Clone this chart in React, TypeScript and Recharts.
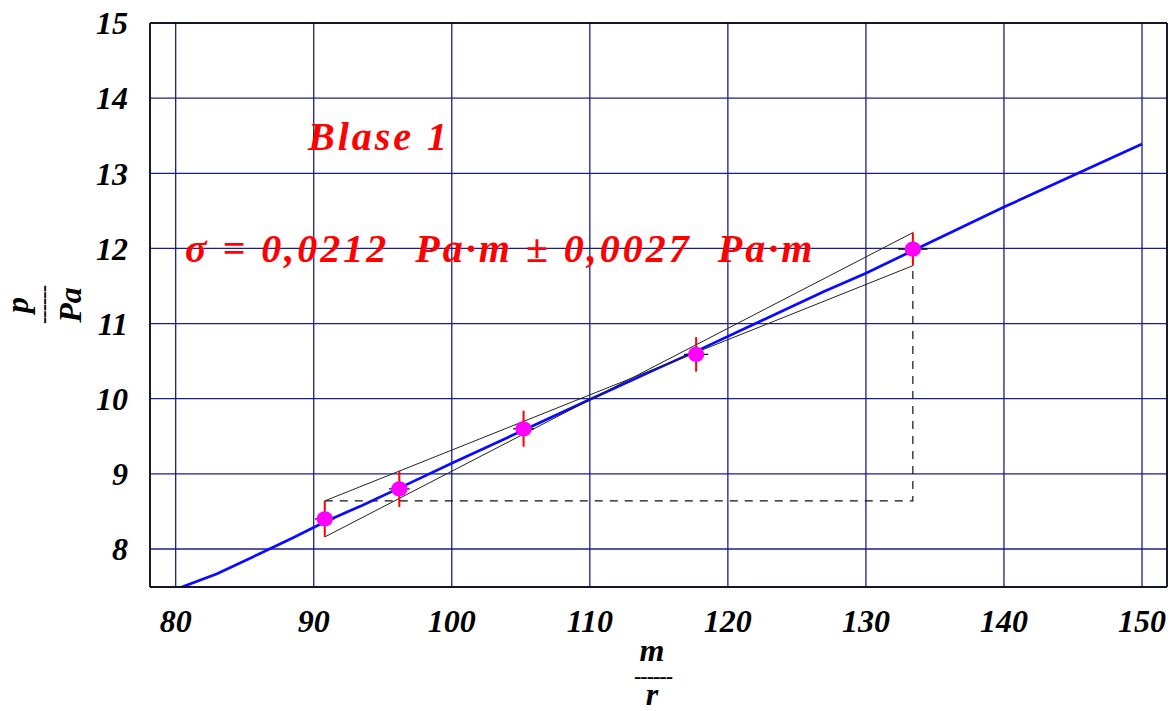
import { ComposedChart, XAxis, YAxis, CartesianGrid, Line, Scatter, ErrorBar } from 'recharts';

// axis ticks
const X_MAJOR = [80, 90, 100, 110, 120, 130, 140, 150];
const X_MINOR = [
    80, 82, 84, 86, 88, 90, 92, 94, 96, 98, 100, 102, 104, 106, 108, 110, 112, 114,
    116, 118, 120, 122, 124, 126, 128, 130, 132, 134, 136, 138, 140, 142, 144, 146, 148, 150,
];
const Y_MAJOR = [8, 9, 10, 11, 12, 13, 14, 15];
const Y_MINOR = [
    7.6, 7.8, 8, 8.2, 8.4, 8.6, 8.8, 9, 9.2, 9.4, 9.6, 9.8, 10, 10.2, 10.4, 10.6, 10.8, 11, 11.2,
    11.4, 11.6, 11.8, 12, 12.2, 12.4, 12.6, 12.8, 13, 13.2, 13.4, 13.6, 13.8, 14, 14.2, 14.4, 14.6,
    14.8, 15,
];
const X_DOMAIN = [78.14, 151.81];
const Y_DOMAIN = [7.494, 15];

// measured points (m/r, p/Pa) with errors
const MEAS_X = [90.8, 96.2, 105.2, 117.7, 133.4];
const MEAS_P = [8.4, 8.8, 9.6, 10.59, 11.99];
const MEAS_EX = [0.7, 0.75, 0.75, 0.87, 1.06];
const MEAS_EY = [0.24, 0.24, 0.24, 0.23, 0.22];

// fitted line
const FIT_X = [80.4, 83, 86, 88.5, 90.9, 93.5, 96.3, 100, 105.3, 110, 115, 117.8, 122, 127, 130, 133.5, 140, 145, 150];
const FIT_P = [7.49, 7.67, 7.93, 8.15, 8.37, 8.58, 8.82, 9.14, 9.59, 9.99, 10.41, 10.64, 11.0, 11.43, 11.67, 11.98, 12.55, 12.97, 13.39];

const W = 1173;
const H = 711;
const FONT = '"Liberation Serif", "Times New Roman", serif';
const RED = '#ff0000';

const measured = MEAS_X.map((x, i) => ({ x, p: MEAS_P[i], ex: MEAS_EX[i], ey: MEAS_EY[i] }));
const fit = FIT_X.map((x, i) => ({ x, p: FIT_P[i] }));

const first = measured[0];
const last = measured[measured.length - 1];
// extreme slopes through the ends of the outer error bars
const steep = [
    { x: first.x, p: first.p - first.ey },
    { x: last.x, p: last.p + last.ey },
];
const flat = [
    { x: first.x, p: first.p + first.ey },
    { x: last.x, p: last.p - last.ey },
];
const slopeTriangle = [
    { x: first.x, p: first.p + first.ey },
    { x: last.x, p: first.p + first.ey },
    { x: last.x, p: last.p + last.ey },
];

const tickStyle = {
    fontFamily: FONT,
    fontSize: 32,
    fontWeight: 700,
    fontStyle: 'italic',
    fill: '#000',
};

const frame = { stroke: '#000', strokeWidth: 1.5 };

const Dot = (props: any) => (
    <ellipse cx={props.cx} cy={props.cy} rx={8.2} ry={7.6} fill="#ff00ff" />
);
const Nothing = () => <g />;

export default function App() {
    return (
        <div style={{ position: 'absolute', left: 0, top: 0, width: W, height: H, background: '#fff' }}>
            <ComposedChart width={W} height={H} margin={{ top: 23, right: 6, bottom: 0, left: 0 }}>
                <CartesianGrid xAxisId="x" yAxisId="y" stroke="#1c1c90" strokeWidth={1.3} />
                <XAxis
                    xAxisId="x"
                    dataKey="x"
                    type="number"
                    domain={X_DOMAIN}
                    allowDataOverflow
                    ticks={X_MAJOR}
                    interval={0}
                    height={124}
                    tickLine={false}
                    tickSize={6}
                    tickMargin={16}
                    axisLine={frame}
                    tick={tickStyle}
                />
                <XAxis
                    xAxisId="xb"
                    type="number"
                    orientation="bottom"
                    mirror
                    domain={X_DOMAIN}
                    allowDataOverflow
                    ticks={X_MINOR}
                    interval={0}
                    tick={false}
                    tickSize={5}
                    tickLine={{ stroke: '#000' }}
                    axisLine={false}
                />
                <XAxis
                    xAxisId="xt"
                    type="number"
                    orientation="top"
                    mirror
                    domain={X_DOMAIN}
                    allowDataOverflow
                    ticks={X_MINOR}
                    interval={0}
                    tick={false}
                    tickSize={5}
                    tickLine={{ stroke: '#000' }}
                    axisLine={frame}
                />
                <YAxis
                    yAxisId="y"
                    type="number"
                    domain={Y_DOMAIN}
                    allowDataOverflow
                    ticks={Y_MAJOR}
                    interval={0}
                    width={150}
                    tickLine={false}
                    tickSize={6}
                    tickMargin={16}
                    axisLine={frame}
                    tick={tickStyle}
                />
                <YAxis
                    yAxisId="yl"
                    type="number"
                    orientation="left"
                    mirror
                    domain={Y_DOMAIN}
                    allowDataOverflow
                    ticks={Y_MINOR}
                    interval={0}
                    tick={false}
                    tickSize={5}
                    tickLine={{ stroke: '#000' }}
                    axisLine={false}
                />
                <YAxis
                    yAxisId="yr"
                    type="number"
                    orientation="right"
                    mirror
                    domain={Y_DOMAIN}
                    allowDataOverflow
                    ticks={Y_MINOR}
                    interval={0}
                    tick={false}
                    tickSize={5}
                    tickLine={{ stroke: '#000' }}
                    axisLine={frame}
                />

                <Line
                    xAxisId="x"
                    yAxisId="y"
                    data={slopeTriangle}
                    dataKey="p"
                    stroke="#111"
                    strokeWidth={1.2}
                    strokeDasharray="8 7"
                    dot={false}
                    activeDot={false}
                    isAnimationActive={false}
                />
                <Line
                    xAxisId="x"
                    yAxisId="y"
                    data={fit}
                    dataKey="p"
                    stroke="#0a0aff"
                    strokeWidth={2.7}
                    dot={false}
                    activeDot={false}
                    isAnimationActive={false}
                />
                <Line
                    xAxisId="x"
                    yAxisId="y"
                    data={steep}
                    dataKey="p"
                    stroke="#222"
                    strokeWidth={1}
                    dot={false}
                    activeDot={false}
                    isAnimationActive={false}
                />
                <Line
                    xAxisId="x"
                    yAxisId="y"
                    data={flat}
                    dataKey="p"
                    stroke="#222"
                    strokeWidth={1}
                    dot={false}
                    activeDot={false}
                    isAnimationActive={false}
                />
                <Scatter
                    xAxisId="x"
                    yAxisId="y"
                    data={measured}
                    dataKey="p"
                    shape={Dot}
                    isAnimationActive={false}
                >
                    <ErrorBar dataKey="ex" direction="x" width={0} stroke="#000" strokeWidth={1.2} />
                </Scatter>
                <Scatter
                    xAxisId="x"
                    yAxisId="y"
                    data={measured}
                    dataKey="p"
                    shape={Nothing}
                    isAnimationActive={false}
                >
                    <ErrorBar dataKey="ey" direction="y" width={0} stroke={RED} strokeWidth={2} />
                </Scatter>
            </ComposedChart>

            <svg
                width={W}
                height={H}
                style={{ position: 'absolute', left: 0, top: 0, pointerEvents: 'none' }}
                fontFamily={FONT}
                fontWeight={700}
                fontStyle="italic"
            >
                <text x={308} y={150} fill={RED} fontSize={40} letterSpacing={3}>
                    Blase 1
                </text>
                <text x={185} y={262} fill={RED} fontSize={40} letterSpacing={3} style={{ whiteSpace: 'pre' }}>
                    {'σ = 0,0212  Pa·m ± 0,0027  Pa·m'}
                </text>

                {/* x axis title m / r */}
                <text x={652} y={661} fontSize={32} textAnchor="middle">m</text>
                <text x={653} y={683} fontSize={22} fontStyle="normal" letterSpacing={-1} textAnchor="middle">------</text>
                <text x={652} y={705} fontSize={32} textAnchor="middle">r</text>

                {/* y axis title p / Pa */}
                <g transform="translate(45,305) rotate(-90)">
                    <text x={0} y={-17} fontSize={32} textAnchor="middle">p</text>
                    <text x={0} y={5} fontSize={22} fontStyle="normal" letterSpacing={-1} textAnchor="middle">------</text>
                    <text x={0} y={36} fontSize={32} textAnchor="middle">Pa</text>
                </g>
            </svg>
        </div>
    );
}
